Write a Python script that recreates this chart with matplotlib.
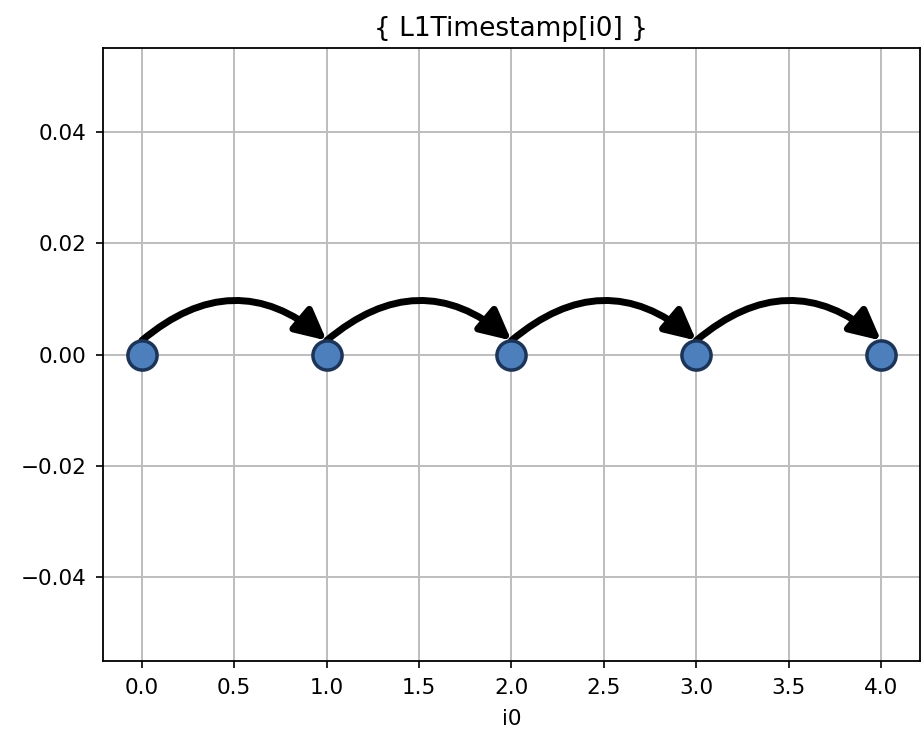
import matplotlib.pyplot as plt
import matplotlib.transforms as mtransforms
import numpy as np

# ~~~~~~~~~~~~~~~~~~~~~~~~~~~~~~~~~~   DATA   ~~~~~~~~~~~~~~~~~~~~~~~~~~~~~~~~~~
i0 = [0, 1, 2, 3, 4]
timestamp = [0, 0, 0, 0, 0]
title = '{ L1Timestamp[i0] }'
xlabel = 'i0'

# ~~~~~~~~~~~~~~~~~~~~~~~~~~~~~~~~~~  PLOT  ~~~~~~~~~~~~~~~~~~~~~~~~~~~~~~~~~~
plt.rcParams['font.size'] = 15.5
plt.rcParams['axes.linewidth'] = 1.3
plt.rcParams['xtick.major.width'] = 1.2
plt.rcParams['ytick.major.width'] = 1.2
plt.rcParams['xtick.major.size'] = 5
plt.rcParams['ytick.major.size'] = 5
plt.rcParams['xtick.major.pad'] = 7
plt.rcParams['ytick.major.pad'] = 7

fig = plt.figure(figsize=(9.23, 7.29), dpi=100)
ax = fig.add_axes([0.1116, 0.0933, 0.885, 0.8407])

ax.plot(i0, timestamp, 'o', markersize=21, markerfacecolor='#4d7fbd',
        markeredgecolor='#1c3457', markeredgewidth=2.5, zorder=4)

# arrows from each step to the next, anchored on top of the markers
above = mtransforms.offset_copy(ax.transData, fig=fig, y=14, units='dots')
for a, b in zip(range(len(i0) - 1), range(1, len(i0))):
    ax.annotate('', xy=(i0[b], timestamp[b]), xycoords=above,
                xytext=(i0[a], timestamp[a]), textcoords=above,
                arrowprops=dict(arrowstyle='-|>', color='black', lw=5,
                                mutation_scale=46,
                                shrinkA=0, shrinkB=0,
                                connectionstyle='arc3,rad=-0.42'),
                zorder=3)

ax.set_ylim(-0.055, 0.055)
ax.set_xlim(-0.21, 4.21)
ax.set_yticks([-0.04, -0.02, 0.0, 0.02, 0.04])
ax.grid(True, color='#bdbdbd', lw=1.4)
ax.set_axisbelow(True)
ax.set_title(title, fontsize=19, pad=9)
ax.set_xlabel(xlabel, labelpad=8)

plt.savefig('out.png', dpi=100)
